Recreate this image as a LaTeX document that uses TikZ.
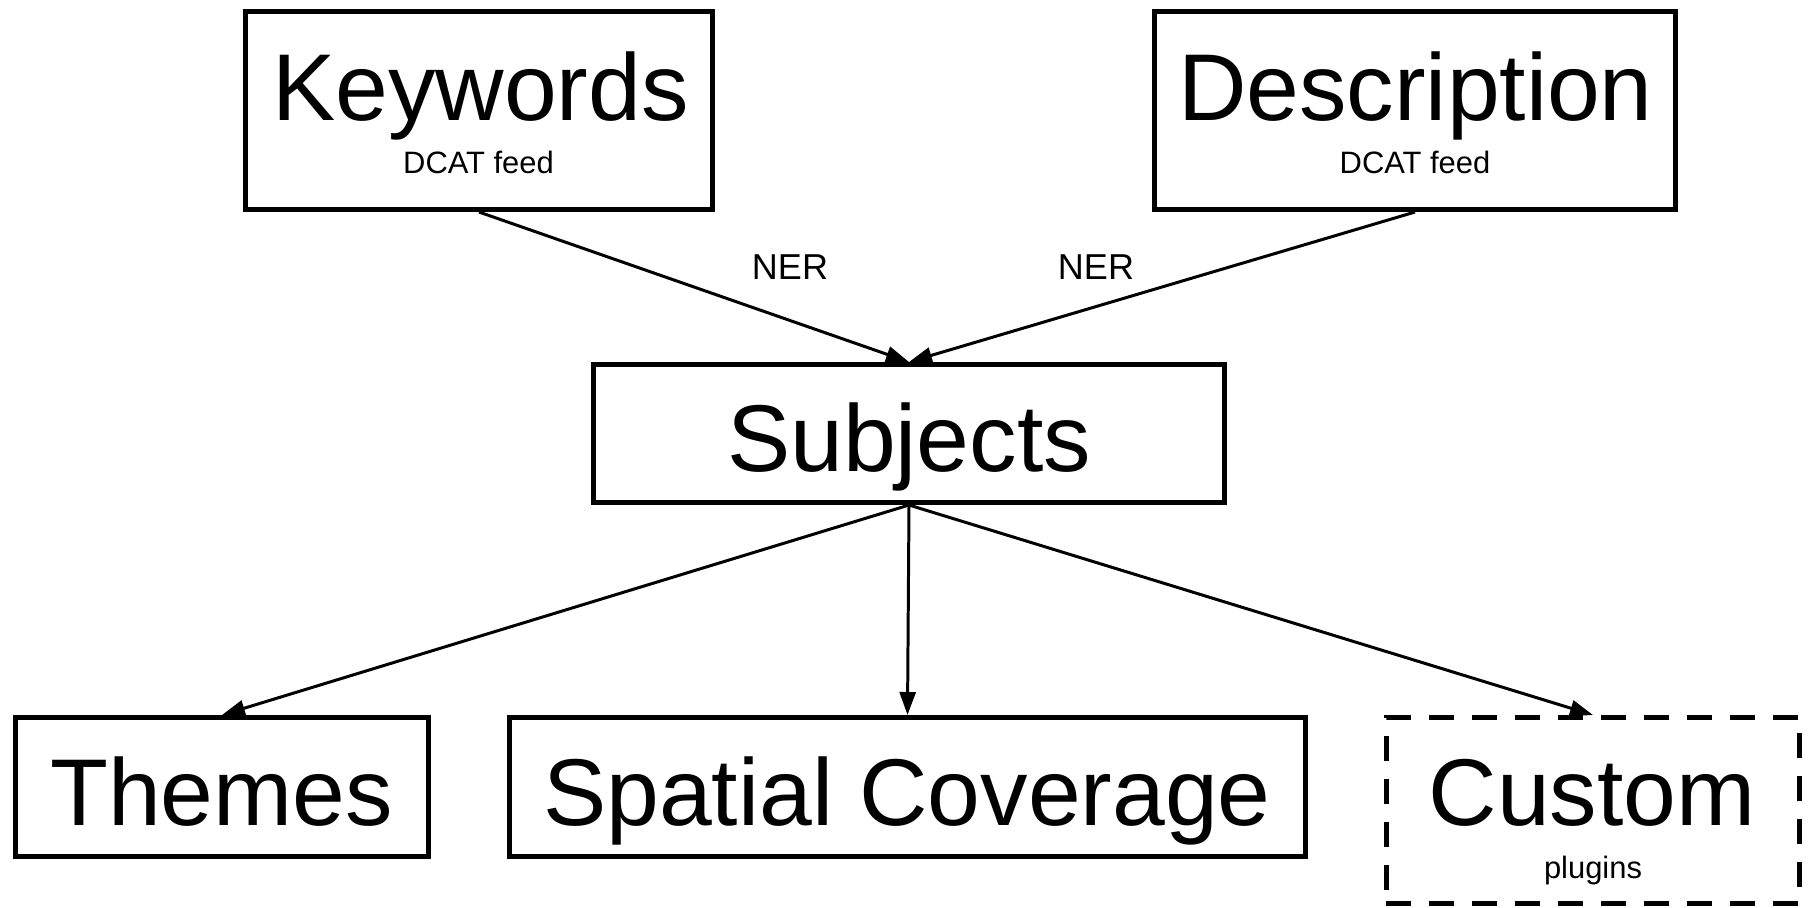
\documentclass[tikz,border=0pt]{standalone}
\usepackage{fontspec}
\setmainfont{Liberation Sans}
\usetikzlibrary{arrows.meta}

\begin{document}
\begin{tikzpicture}[x=0.02cm,y=-0.02cm,
    box/.style={draw,line width=2.6pt,inner sep=0pt},
    big/.style={anchor=base,inner sep=0pt,font=\fontsize{54}{60}\selectfont},
    small/.style={anchor=base,inner sep=0pt,font=\fontsize{17.6}{20}\selectfont},
    ner/.style={anchor=base,inner sep=0pt,font=\fontsize{20.5}{24}\selectfont},
    link/.style={line width=1.7pt,-{Triangle[length=0.46cm,width=0.32cm]}}]
      \useasboundingbox (0,0) rectangle (1808,907);
      % sources
      \node[box,minimum width=9.35cm,minimum height=3.97cm] (keywords) at (479,110.5) {};
      \node[big] (keywords-t) at (480.5,120) {Keywords};
      \node[small] (keywords-s) at (478.5,173) {DCAT feed};
      \node[box,minimum width=10.43cm,minimum height=3.97cm] (description) at (1415,110.5) {};
      \node[big] (description-t) at (1415.5,120) {Description};
      \node[small] (description-s) at (1415,173) {DCAT feed};
      % middle
      \node[box,minimum width=12.63cm,minimum height=2.77cm] (subjects) at (909,433.5) {};
      \node[big] (subjects-t) at (909,471) {Subjects};
      % targets
      \node[box,minimum width=8.27cm,minimum height=2.79cm] (themes) at (222,787) {};
      \node[big] (themes-t) at (221.5,825) {Themes};
      \node[box,minimum width=15.93cm,minimum height=2.79cm] (spatial) at (907.5,787) {};
      \node[big] (spatial-t) at (907,825) {Spatial Coverage};
      \node[box,dash pattern=on 0.5cm off 0.36cm,minimum width=8.27cm,minimum height=3.73cm] (custom) at (1593,810.5) {};
      \node[big] (custom-t) at (1592,825) {Custom};
      \node[small] (custom-s) at (1593,878) {plugins};
      % arrows
      \draw[link] (keywords.south) -- (subjects.north);
      \draw[link] (description.south) -- (subjects.north);
      \node[ner] (ner-left) at (790,279) {NER};
      \node[ner] (ner-right) at (1096,279) {NER};
      \draw[link] (subjects.south) -- (themes.north);
      \draw[link] (subjects.south) -- (spatial.north);
      \draw[link] (subjects.south) -- (custom.north);
\end{tikzpicture}
\end{document}
